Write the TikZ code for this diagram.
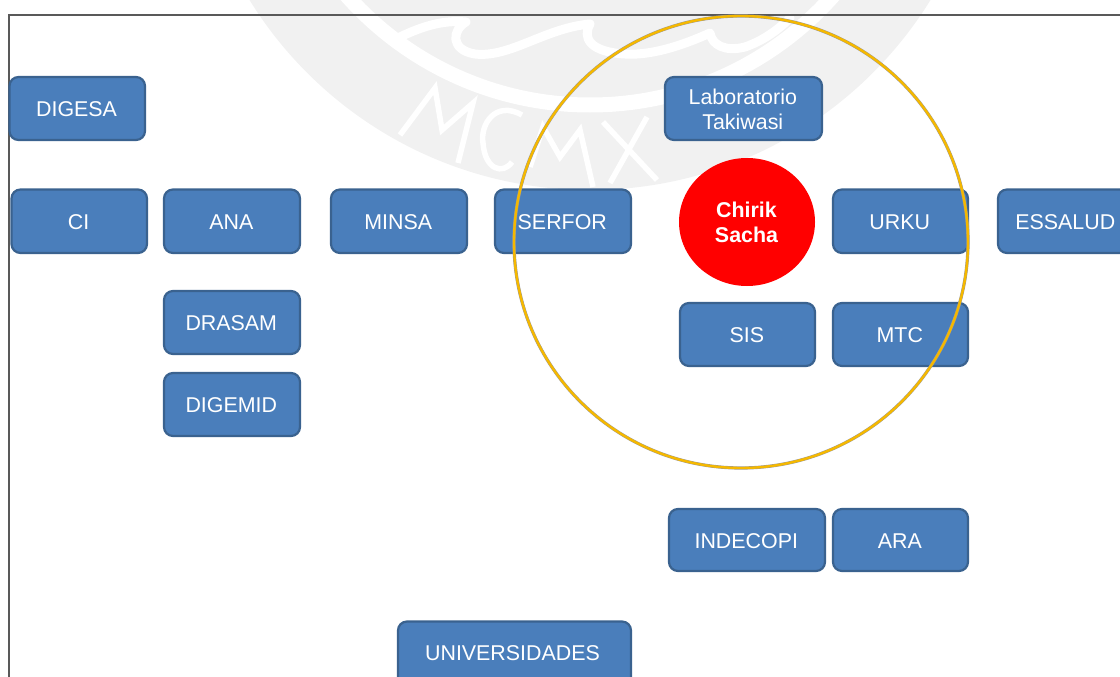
\documentclass[tikz,border=0pt]{standalone}
\usepackage{fontspec}
\setmainfont{Liberation Sans}
\definecolor{boxfill}{HTML}{4A7EBB}
\definecolor{boxedge}{HTML}{3A628F}
\definecolor{gold}{HTML}{F5B800}
\definecolor{wm}{HTML}{F1F1F1}
\tikzset{
  x=1pt,y=-1pt,
  orgbox/.style={rounded corners=9pt,draw=boxedge,line width=2.2pt,fill=boxfill},
  lbl/.style={text=white,font=\fontsize{21.4}{25.5}\selectfont,align=center,inner sep=0pt},
  wmline/.style={draw=white,line width=5.5pt,line join=miter},
}
\newcommand{\orgbox}[6]{%
  \draw[orgbox] (#2,#4) rectangle (#3,#5);
  \node[lbl] (#1) at ({(#2+#3)/2-0.7},{(#4+#5)/2+0.8}) {#6};}
\begin{document}
\begin{tikzpicture}
\useasboundingbox (0,0) rectangle (1120,677);
\clip (0,0) rectangle (1120,677);
% watermark
\fill[wm] (590,-210) circle [radius=400];
\draw[draw=white,line width=15pt] (590,-220) circle [radius=325];
\draw[wmline,line width=9pt,line join=round,line cap=round] (400,37) .. controls (425,25) and (445,20) .. (466,22) .. controls (452,30) and (450,50) .. (475,54) .. controls (510,58) and (545,28) .. (590,24) .. controls (582,38) and (590,52) .. (625,54) .. controls (655,56) and (690,42) .. (710,33) .. controls (712,45) and (725,52) .. (745,47) .. controls (765,40) and (780,28) .. (790,18);
\draw[wmline] (400,135) -- (435,88) -- (442,130) -- (473,103) -- (458,163);
\draw[wmline] (522,115) .. controls (495,100) and (480,125) .. (483,143) .. controls (485,170) and (503,175) .. (512,162);
\draw[wmline] (530,167) -- (543,127) -- (560,157) -- (580,130) -- (593,187);
\draw[wmline] (603,122) -- (657,180) (647,117) -- (610,183);
% frame
\draw[draw=black!65,line width=1.3pt] (1125,15) -- (9,15) -- (9,690);
% boxes
\orgbox{digesa}{9.5}{145}{77}{140}{DIGESA}
\orgbox{ci}{11.5}{147}{189.5}{253}{CI}
\orgbox{ana}{164}{300}{189.5}{253}{ANA}
\orgbox{minsa}{331}{467}{189.5}{253}{MINSA}
\orgbox{serfor}{495}{631}{189.5}{253}{SERFOR}
\orgbox{urku}{833}{968}{189.5}{253}{URKU}
\orgbox{essalud}{998}{1134}{189.5}{253}{ESSALUD}
\orgbox{lab}{665}{822}{77}{140}{Laboratorio\\Takiwasi}
\orgbox{drasam}{164}{300}{291}{354}{DRASAM}
\orgbox{digemid}{164}{300}{373}{436}{DIGEMID}
\orgbox{sis}{680}{815}{303}{366}{SIS}
\orgbox{mtc}{833}{968}{303}{366}{MTC}
\orgbox{indecopi}{669}{825}{509}{571}{INDECOPI}
\orgbox{ara}{833}{968}{509}{571}{ARA}
\draw[orgbox] (398,621.5) rectangle (631,700);
\node[lbl] (univ) at (512.5,653.5) {UNIVERSIDADES};
% red circle
\fill[red] (747,222) ellipse [x radius=68,y radius=64];
\node[lbl,font=\bfseries\fontsize{21.4}{25.5}\selectfont] (chirik) at (746.5,222.5) {Chirik\\Sacha};
% gold circle
\draw[draw=black!40,line width=3.2pt] (741,242) ellipse [x radius=227,y radius=226];
\draw[draw=gold,line width=2.4pt] (741,242) ellipse [x radius=227,y radius=226];
\end{tikzpicture}
\end{document}
